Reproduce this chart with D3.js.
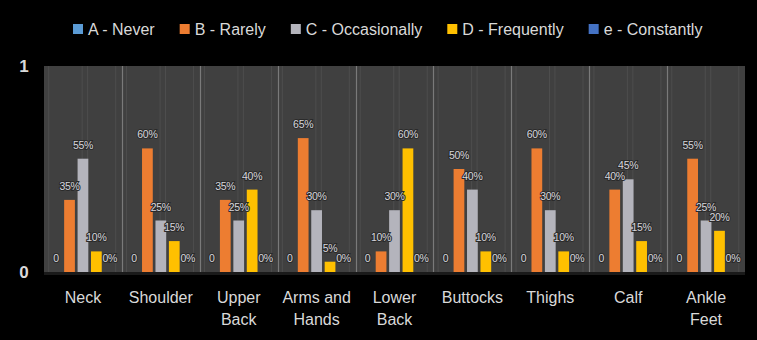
<!DOCTYPE html>
<html>
<head>
<meta charset="utf-8">
<script src="https://cdn.jsdelivr.net/npm/d3@7"></script>
<style>
  html, body { margin: 0; padding: 0; background: #000; }
  svg { display: block; }
</style>
</head>
<body>
<script>
const width = 757
const height = 340

// data
const categories = ["Neck", "Shoulder", "Upper\nBack", "Arms and\nHands", "Lower\nBack", "Buttocks", "Thighs", "Calf", "Ankle\nFeet"]
const seriesNames = ["A - Never", "B - Rarely", "C - Occasionally", "D - Frequently", "e - Constantly"]
const never = [0, 0, 0, 0, 0, 0, 0, 0, 0]
const rarely = [0.35, 0.60, 0.35, 0.65, 0.10, 0.50, 0.60, 0.40, 0.55]
const occasionally = [0.55, 0.25, 0.25, 0.30, 0.30, 0.40, 0.30, 0.45, 0.25]
const frequently = [0.10, 0.15, 0.40, 0.05, 0.60, 0.10, 0.10, 0.15, 0.20]
const constantly = [0, 0, 0, 0, 0, 0, 0, 0, 0]
const yTicks = [0, 1]

const seriesValues = [never, rarely, occasionally, frequently, constantly]
const colors = ["#5b9bd5", "#ed7d31", "#b4b4bc", "#ffc000", "#4472c4"]
// first series shows plain 0, last one shows 0%
const fmt = [d => d3.format("d")(d), d3.format(".0%"), d3.format(".0%"), d3.format(".0%"), d3.format(".0%")]

const textColor = "#d9d9d9"
const font = "'Liberation Sans', Arial, sans-serif"

const margin = {top: 66, right: 12, bottom: 68, left: 44}

let svg = d3.select("body")
    .append("svg")
    .attr("width", width)
    .attr("height", height)

svg.append("rect")
    .attr("width", width)
    .attr("height", height)
    .attr("fill", "#000")

let x0 = d3.scaleBand()
    .domain(categories)
    .range([margin.left, width - margin.right])
    .paddingInner(0)
    .paddingOuter(0)

let x1 = d3.scaleBand()
    .domain(d3.range(seriesNames.length))
    .range([0, x0.bandwidth()])
    .paddingInner(0.2)
    .paddingOuter(0.5)

let y = d3.scaleLinear()
    .domain([0, 1])
    .range([height - margin.bottom, margin.top])

// plot area
svg.append("rect")
    .attr("x", margin.left)
    .attr("y", margin.top)
    .attr("width", width - margin.right - margin.left)
    .attr("height", y(0) - y(1))
    .attr("fill", "#404040")

// faint inner lines (picture has them inside every group)
const faint = [0.06, 0.49, 0.56, 0.92]
categories.forEach(c => {
    faint.forEach(f => {
        svg.append("line")
            .attr("x1", x0(c) + f*x0.bandwidth())
            .attr("x2", x0(c) + f*x0.bandwidth())
            .attr("y1", y(1))
            .attr("y2", y(0))
            .attr("stroke", "#4d4d4d")
            .attr("stroke-width", 1)
    })
})

// category separators
svg.selectAll(".sep")
    .data(categories.slice(1))
    .enter()
    .append("line")
    .attr("x1", d => Math.round(x0(d)) + 0.5)
    .attr("x2", d => Math.round(x0(d)) + 0.5)
    .attr("y1", y(1))
    .attr("y2", y(0))
    .attr("stroke", "#7a7a7a")
    .attr("stroke-width", 1.2)

// bars
let groups = svg.selectAll(".grp")
    .data(categories)
    .enter()
    .append("g")
    .attr("transform", d => `translate(${x0(d)},0)`)

groups.selectAll("rect")
    .data((d, ci) => seriesValues.map((s, si) => ({si: si, v: s[ci]})))
    .enter()
    .append("rect")
    .attr("x", d => x1(d.si))
    .attr("width", x1.bandwidth())
    .attr("y", d => y(d.v))
    .attr("height", d => y(0) - y(d.v))
    .attr("fill", d => colors[d.si])

groups.selectAll("text")
    .data((d, ci) => seriesValues.map((s, si) => ({si: si, v: s[ci]})))
    .enter()
    .append("text")
    .attr("x", d => x1(d.si) + x1.bandwidth()/2)
    .attr("y", d => y(d.v) - 10)
    .attr("text-anchor", "middle")
    .attr("font-family", font)
    .attr("font-size", 10.5)
    .attr("letter-spacing", -0.3)
    .attr("fill", "#d6d6dc")
    .attr("stroke", "#2a2a2a")
    .attr("stroke-width", 2)
    .attr("paint-order", "stroke")
    .text(d => fmt[d.si](d.v))

// axis baseline
svg.append("line")
    .attr("x1", margin.left)
    .attr("x2", width - margin.right)
    .attr("y1", y(0) + 1.5)
    .attr("y2", y(0) + 1.5)
    .attr("stroke", "#1a1a1a")
    .attr("stroke-width", 3)

// y labels
svg.selectAll(".ytick")
    .data(yTicks)
    .enter()
    .append("text")
    .attr("x", 24)
    .attr("y", d => y(d))
    .attr("dy", "0.35em")
    .attr("text-anchor", "middle")
    .attr("font-family", font)
    .attr("font-size", 17)
    .attr("font-weight", "bold")
    .attr("fill", textColor)
    .text(d => d)

// x labels
let xl = svg.selectAll(".xlab")
    .data(categories)
    .enter()
    .append("text")
    .attr("x", d => x0(d) + x0.bandwidth()/2)
    .attr("y", 303)
    .attr("text-anchor", "middle")
    .attr("font-family", font)
    .attr("font-size", 16)
    .attr("fill", textColor)

xl.selectAll("tspan")
    .data(d => d.split("\n"))
    .enter()
    .append("tspan")
    .attr("x", function(){ return this.parentNode.getAttribute("x") })
    .attr("dy", (d, i) => i == 0 ? 0 : 22)
    .text(d => d)

// legend
let lx = 73
const ly = 29
seriesNames.forEach((name, i) => {
    svg.append("rect")
        .attr("x", lx)
        .attr("y", ly - 5)
        .attr("width", 10)
        .attr("height", 10)
        .attr("fill", colors[i])
    let t = svg.append("text")
        .attr("x", lx + 15)
        .attr("y", ly)
        .attr("dy", "0.35em")
        .attr("font-family", font)
        .attr("font-size", 16)
        .attr("fill", textColor)
        .text(name)
    lx = lx + 15 + t.node().getComputedTextLength() + 25
})
</script>
</body>
</html>
